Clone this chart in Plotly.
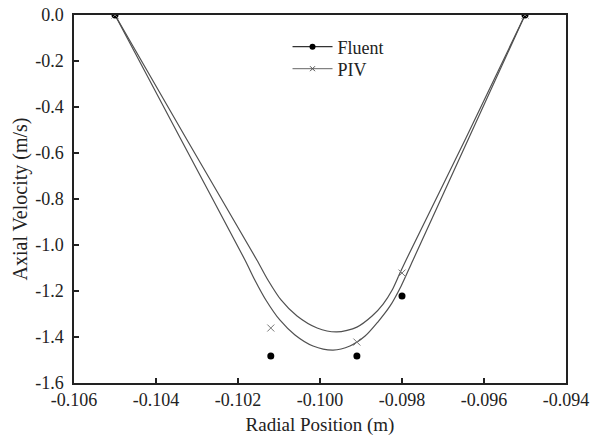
import plotly.graph_objects as go

# Curve samples (smoothed profiles)
fluent_curve_x = [-0.10500, -0.10341, -0.10183, -0.10159, -0.10132, -0.10098, -0.10061, -0.10017,
                  -0.09968, -0.09927, -0.09890, -0.09859, -0.09829, -0.09802, -0.09773, -0.09637, -0.09500]
fluent_curve_y = [0.000, -0.535, -1.065, -1.152, -1.239, -1.326, -1.391, -1.439,
                  -1.457, -1.439, -1.396, -1.335, -1.265, -1.178, -1.065, -0.535, 0.000]

piv_curve_x = [-0.10500, -0.10327, -0.10154, -0.10127, -0.10095, -0.10056, -0.10007,
               -0.09959, -0.09910, -0.09873, -0.09846, -0.09824, -0.09805, -0.09790, -0.09644, -0.09500]
piv_curve_y = [0.000, -0.535, -1.065, -1.152, -1.239, -1.309, -1.361,
               -1.378, -1.357, -1.309, -1.257, -1.196, -1.122, -1.065, -0.535, 0.000]

# Measured points
fluent_pts_x = [-0.1050, -0.1012, -0.0991, -0.0980, -0.0950]
fluent_pts_y = [0.000, -1.483, -1.483, -1.222, 0.000]
piv_pts_x = [-0.1050, -0.1012, -0.0991, -0.0980, -0.0950]
piv_pts_y = [0.000, -1.361, -1.422, -1.122, 0.000]

x_tickvals = [-0.106, -0.104, -0.102, -0.100, -0.098, -0.096, -0.094]
x_ticktext = ["-0.106", "-0.104", "-0.102", "-0.100", "-0.098", "-0.096", "-0.094"]
y_tickvals = [0.0, -0.2, -0.4, -0.6, -0.8, -1.0, -1.2, -1.4, -1.6]
y_ticktext = ["0.0", "-0.2", "-0.4", "-0.6", "-0.8", "-1.0", "-1.2", "-1.4", "-1.6"]

FONT = "Liberation Serif, Times New Roman, serif"
LINE_C = "#505050"

fig = go.Figure()
fig.add_trace(go.Scatter(x=fluent_curve_x, y=fluent_curve_y, mode="lines",
                         line=dict(color=LINE_C, width=1.2, shape="spline", smoothing=0.8),
                         showlegend=False, hoverinfo="skip"))
fig.add_trace(go.Scatter(x=piv_curve_x, y=piv_curve_y, mode="lines",
                         line=dict(color=LINE_C, width=1.2, shape="spline", smoothing=0.8),
                         showlegend=False, hoverinfo="skip"))
fig.add_trace(go.Scatter(x=fluent_pts_x, y=fluent_pts_y, mode="markers",
                         marker=dict(symbol="circle", size=7, color="black"),
                         showlegend=False, cliponaxis=True))
fig.add_trace(go.Scatter(x=piv_pts_x, y=piv_pts_y, mode="markers",
                         marker=dict(symbol="x-thin", size=7, color="#777",
                                     line=dict(width=1, color="#777")),
                         showlegend=False, cliponaxis=True))
# legend entries
fig.add_trace(go.Scatter(x=[None], y=[None], mode="lines+markers", name="Fluent",
                         line=dict(color="#333", width=1.2), legend="legend",
                         marker=dict(symbol="circle", size=6, color="black")))
fig.add_trace(go.Scatter(x=[None], y=[None], mode="lines+markers", name="PIV",
                         line=dict(color="#666", width=1), legend="legend2",
                         marker=dict(symbol="x-thin", size=5, color="#555",
                                     line=dict(width=1, color="#555"))))

axis_common = dict(showgrid=False, zeroline=False, showline=True, linecolor="#222",
                   linewidth=1.5, mirror=True, ticks="inside", ticklen=5, tickwidth=1.5,
                   tickcolor="#222", automargin=False, ticklabeloverflow="allow",
                   tickfont=dict(family=FONT, size=18, color="#222"))

fig.update_xaxes(range=[-0.106, -0.094], tickvals=x_tickvals, ticktext=x_ticktext,
                 title=dict(text="Radial Position (m)", font=dict(family=FONT, size=19, color="#222"),
                            standoff=8),
                 **axis_common)
fig.update_yaxes(range=[-1.6, 0.0], tickvals=y_tickvals, ticktext=y_ticktext,
                 ticklabelstandoff=5,
                 title=dict(text="Axial Velocity (m/s)", font=dict(family=FONT, size=20, color="#222"),
                            standoff=2),
                 **axis_common)

legend_common = dict(xanchor="left", yanchor="middle", bgcolor="rgba(0,0,0,0)",
                     font=dict(family=FONT, size=18, color="#222"), itemwidth=40)

fig.update_layout(
    width=592, height=443,
    margin=dict(l=74, r=26, t=15, b=60),
    paper_bgcolor="white", plot_bgcolor="white",
    font=dict(family=FONT, color="#222"),
    legend=dict(x=0.434, y=1 - (47 - 15) / 368, **legend_common),
    legend2=dict(x=0.434, y=1 - (69 - 15) / 368, **legend_common),
)

fig.write_html("out.html", config={"displayModeBar": False},
               post_script="document.body.style.margin='0';document.body.style.overflow='hidden';")
